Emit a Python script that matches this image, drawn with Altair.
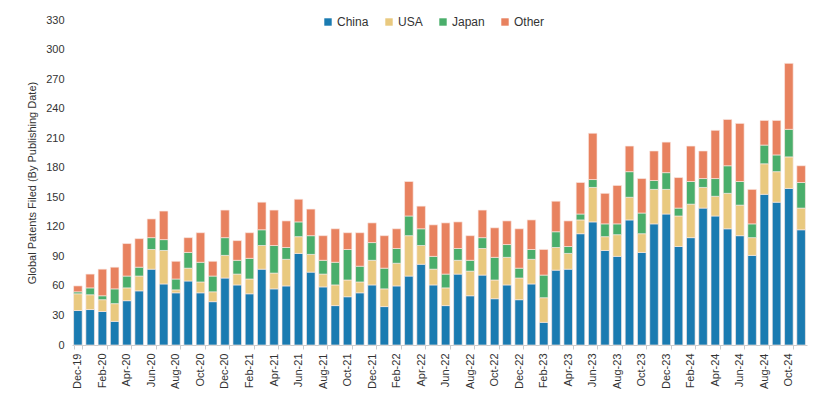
import altair as alt
import pandas as pd

months = ["Dec-19","Jan-20","Feb-20","Mar-20","Apr-20","May-20","Jun-20","Jul-20","Aug-20","Sep-20","Oct-20","Nov-20",
          "Dec-20","Jan-21","Feb-21","Mar-21","Apr-21","May-21","Jun-21","Jul-21","Aug-21","Sep-21","Oct-21","Nov-21",
          "Dec-21","Jan-22","Feb-22","Mar-22","Apr-22","May-22","Jun-22","Jul-22","Aug-22","Sep-22","Oct-22","Nov-22",
          "Dec-22","Jan-23","Feb-23","Mar-23","Apr-23","May-23","Jun-23","Jul-23","Aug-23","Sep-23","Oct-23","Nov-23",
          "Dec-23","Jan-24","Feb-24","Mar-24","Apr-24","May-24","Jun-24","Jul-24","Aug-24","Sep-24","Oct-24","Nov-24"]

china = [35,36,34,24,45,55,77,62,53,65,53,44,
         68,61,52,77,57,60,93,74,59,40,49,53,
         61,39,60,70,82,61,40,72,50,71,47,61,
         46,62,23,76,77,113,125,96,90,127,94,123,
         133,100,109,139,131,118,111,91,153,145,159,117]
usa = [17,15,12,18,13,15,20,34,3,13,11,10,
       23,11,15,24,16,27,17,18,13,21,17,11,
       25,18,23,41,19,16,18,14,25,27,19,28,
       22,25,25,23,16,14,35,14,22,23,19,35,
       25,31,34,21,20,36,31,18,31,31,32,22]
japan = [2,7,4,15,12,9,12,11,11,16,20,16,
         18,14,21,16,28,12,15,19,14,23,31,16,
         18,21,15,20,17,13,14,12,11,11,23,13,
         10,10,23,16,7,6,8,13,11,26,21,9,
         17,8,23,9,18,28,24,14,19,17,28,26]
other = [6,14,27,22,33,29,19,29,18,15,30,15,
         28,20,26,28,36,27,23,27,25,34,17,34,
         20,33,20,35,23,32,52,27,25,28,30,24,
         40,30,26,31,26,32,47,31,39,26,35,30,
         31,31,36,28,49,47,59,35,25,35,67,17]

series = ["China", "USA", "Japan", "Other"]
colors = ["#1a7bb1", "#e9c97f", "#4aae6b", "#e8825f"]
y_ticks = list(range(0, 331, 30))

rows = []
for s_i, (name, vals) in enumerate(zip(series, [china, usa, japan, other])):
    for m, v in zip(months, vals):
        rows.append({"month": m, "series": name, "value": v, "ord": s_i})
df = pd.DataFrame(rows)

label_months = months[::2]

chart = alt.Chart(df).mark_bar(stroke="#fbe9e4", strokeWidth=0.8, strokeOpacity=0.8).encode(
    x=alt.X("month:N", sort=months,
            scale=alt.Scale(paddingInner=0.3, paddingOuter=0.13),
            axis=alt.Axis(title=None, values=label_months, labelAngle=270,
                          labelFontSize=11, labelColor="#333333", labelFont="Liberation Sans",
                          labelPadding=4, tickBand="extent", tickSize=4,
                          tickColor="#cccccc", domainColor="#cccccc", grid=False)),
    y=alt.Y("value:Q", stack="zero",
            scale=alt.Scale(domain=[0, 330], nice=False),
            axis=alt.Axis(title="Global Patents Filed (By Publishing Date)", values=y_ticks,
                          titleFontSize=11, titleFontWeight="normal", titleColor="#333333",
                          titleFont="Liberation Sans", titlePadding=8,
                          labelFontSize=11, labelColor="#333333", labelFont="Liberation Sans",
                          labelPadding=8, domain=False, ticks=False, grid=False)),
    color=alt.Color("series:N", sort=series,
                    scale=alt.Scale(domain=series, range=colors),
                    legend=alt.Legend(title=None, orient="none", legendX=250, legendY=-4,
                                      direction="horizontal", symbolType="square",
                                      symbolSize=55, symbolStrokeWidth=0, labelFontSize=12,
                                      labelFont="Liberation Sans", labelColor="#333333",
                                      columnPadding=14, labelOffset=3)),
    order=alt.Order("ord:Q", sort="ascending"),
).properties(
    width=735, height=325,
    autosize=alt.AutoSizeParams(type="none"),
    padding={"left": 64, "top": 12, "right": 17, "bottom": 45},
).configure_view(stroke=None)

chart.save("out.html", embed_options={"renderer": "svg", "actions": False})
